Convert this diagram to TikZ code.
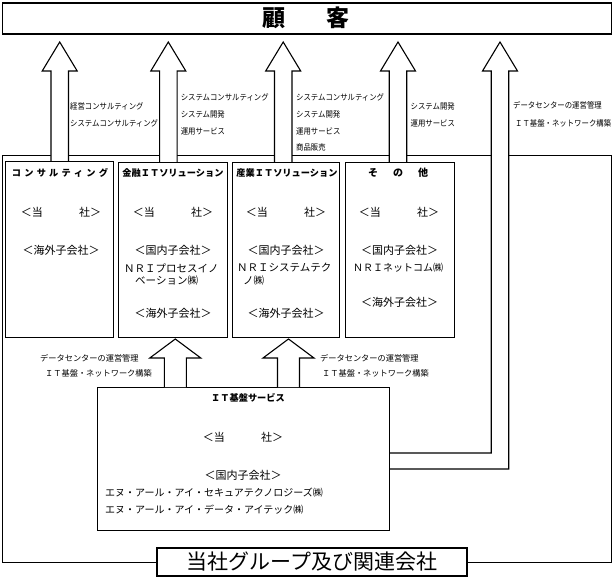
\documentclass[tikz,border=0pt]{standalone}
\usepackage{fontspec}
\newfontfamily\jp{Noto Sans CJK JP}
\newfontfamily\jpn[FakeStretch=0.9]{Noto Sans CJK JP}
\newcommand\blkup[4]{%
  \draw[blk] (#1-8.75,#4) -- (#1-8.75,#3) -- (#1-17.5,#3) -- (#1,#2) -- (#1+17.5,#3) -- (#1+8.75,#3) -- (#1+8.75,#4);}
\newcommand\blkupb[4]{%
  \draw[blk] (#1-11,#4) -- (#1-11,#3) -- (#1-25.5,#3) -- (#1,#2) -- (#1+25.5,#3) -- (#1+11,#3) -- (#1+11,#4);}
\begin{document}
\begin{tikzpicture}[x=1pt,y=-1pt,
  frame/.style={draw,line width=1.4pt},
  boxst/.style={draw,line width=1.1pt,fill=white,anchor=north west,inner sep=0pt},
  blk/.style={draw,line width=1.1pt,fill=white,line join=miter},
  lbl/.style={font=\jpn\fontsize{8.2}{9}\selectfont,anchor=west,inner sep=0pt},
  lblb/.style={font=\jp\fontsize{8.2}{9}\selectfont,anchor=west,inner sep=0pt},
  txt/.style={font=\jp\fontsize{11}{12}\selectfont,inner sep=0pt},
  nri/.style={font=\jp\fontsize{10.5}{12}\selectfont,inner sep=0pt,anchor=west},
  ttl/.style={font=\jp\bfseries\fontsize{9.2}{10}\selectfont,inner sep=0pt},
  itx/.style={font=\jp\fontsize{10}{11}\selectfont,anchor=west,inner sep=0pt}
]
\useasboundingbox (0,0) rectangle (613,577);

% customer box
\node[frame,anchor=north west,minimum width=609pt,minimum height=31pt,inner sep=0pt] (kokyaku) at (2,2.5) {};
\node[font=\jp\bfseries\fontsize{23}{24}\selectfont,inner sep=0pt] (kokyakut) at (306,18) {顧\hspace{1.75em}客};

% group frame
\node[frame,anchor=north west,minimum width=609pt,minimum height=407pt,inner sep=0pt] (group) at (2,155) {};

% inner boxes
\node[boxst,minimum width=108pt,minimum height=176pt] (cons) at (5,161) {};
\node[boxst,minimum width=109pt,minimum height=175pt] (kin) at (118,162) {};
\node[boxst,minimum width=107pt,minimum height=175pt] (san) at (232,162) {};
\node[boxst,minimum width=109pt,minimum height=175pt] (sono) at (345,162) {};
\node[boxst,minimum width=292pt,minimum height=143pt] (it) at (97,387) {};

% upper block arrows
\blkup{59.7}{42}{71}{161}
\blkup{168.3}{42}{71}{162}
\blkup{283.2}{42}{71}{162}
\blkup{398}{42}{71}{162}
\draw[blk] (it.east |- 0,453) -- (491.25,453) -- (491.25,71) -- (482.5,71) -- (500,42) -- (517.5,71) -- (508.75,71) -- (508.75,469) -- (it.east |- 0,469);

% lower block arrows
\blkupb{175.3}{339}{358}{387}
\blkupb{288.5}{339}{358}{387}

% group label
\node[draw,fill=white,line width=1.4pt,minimum width=310pt,minimum height=28pt,inner sep=0pt,font=\jp\fontsize{21}{22}\selectfont] (grp) at (312,562) {当社グループ及び関連会社};

% upper labels
\node[lbl] (a1a) at (70,106) {経営コンサルティング};
\node[lbl] (a1b) at (70,123) {システムコンサルティング};
\node[lbl] (a2a) at (180.6,97) {システムコンサルティング};
\node[lbl] (a2b) at (180.6,114) {システム開発};
\node[lbl] (a2c) at (180.6,131) {運用サービス};
\node[lbl] (a3a) at (296,97) {システムコンサルティング};
\node[lbl] (a3b) at (296,114) {システム開発};
\node[lbl] (a3c) at (296,131) {運用サービス};
\node[lbl] (a3d) at (296,147) {商品販売};
\node[lbl] (a4a) at (410.5,106) {システム開発};
\node[lbl] (a4b) at (410.5,123) {運用サービス};
\node[lbl] (a5a) at (513,105) {データセンターの運営管理};
\node[lbl] (a5b) at (515,123) {ＩＴ基盤・ネットワーク構築};

% lower labels
\node[lblb] (b1a) at (40,358) {データセンターの運営管理};
\node[lblb] (b1b) at (45,373) {ＩＴ基盤・ネットワーク構築};
\node[lblb] (b2a) at (320,358) {データセンターの運営管理};
\node[lblb] (b2b) at (322,373) {ＩＴ基盤・ネットワーク構築};

% consulting
\node[ttl] (consT) at (60,173) {\makebox[96pt]{コ\hfill ン\hfill サ\hfill ル\hfill テ\hfill ィ\hfill ン\hfill グ}};
\node[txt] (cons1) at (61,212) {＜当\hspace{3.3em}社＞};
\node[txt] (cons2) at (61,250) {＜海外子会社＞};

% financial
\node[ttl] (kinT) at (173,173) {金融ＩＴソリューション};
\node[txt] (kin1) at (173,212) {＜当\hspace{3.3em}社＞};
\node[txt] (kin2) at (173,250) {＜国内子会社＞};
\node[nri] (kin3) at (124,268) {ＮＲＩプロセスイノ};
\node[nri] (kin4) at (135,281) {ベーション㈱};
\node[txt] (kin5) at (173,313) {＜海外子会社＞};

% industrial
\node[ttl] (sanT) at (287,173) {産業ＩＴソリューション};
\node[txt] (san1) at (286,212) {＜当\hspace{3.3em}社＞};
\node[txt] (san2) at (286,250) {＜国内子会社＞};
\node[nri] (san3) at (237,268) {ＮＲＩシステムテク};
\node[nri] (san4) at (243,281) {ノ㈱};
\node[txt] (san5) at (286,313) {＜海外子会社＞};

% others
\node[ttl,font=\jp\bfseries\fontsize{10}{11}\selectfont] (sonoT) at (398,173) {\makebox[60pt]{そ\hfill の\hfill 他}};
\node[txt] (sono1) at (399,212) {＜当\hspace{3.3em}社＞};
\node[txt] (sono2) at (399.5,250) {＜国内子会社＞};
\node[txt,font=\jp\fontsize{10}{11}\selectfont] (sono3) at (398,268) {ＮＲＩネットコム㈱};
\node[txt] (sono4) at (399.5,302) {＜海外子会社＞};

% IT infrastructure
\node[ttl] (itT) at (248,398) {ＩＴ基盤サービス};
\node[txt] (it1) at (243,437) {＜当\hspace{3.3em}社＞};
\node[txt] (it2) at (243,475) {＜国内子会社＞};
\node[itx] (it3) at (105,493) {エヌ・アール・アイ・セキュアテクノロジーズ㈱};
\node[itx] (it4) at (105,510) {エヌ・アール・アイ・データ・アイテック㈱};
\end{tikzpicture}
\end{document}
